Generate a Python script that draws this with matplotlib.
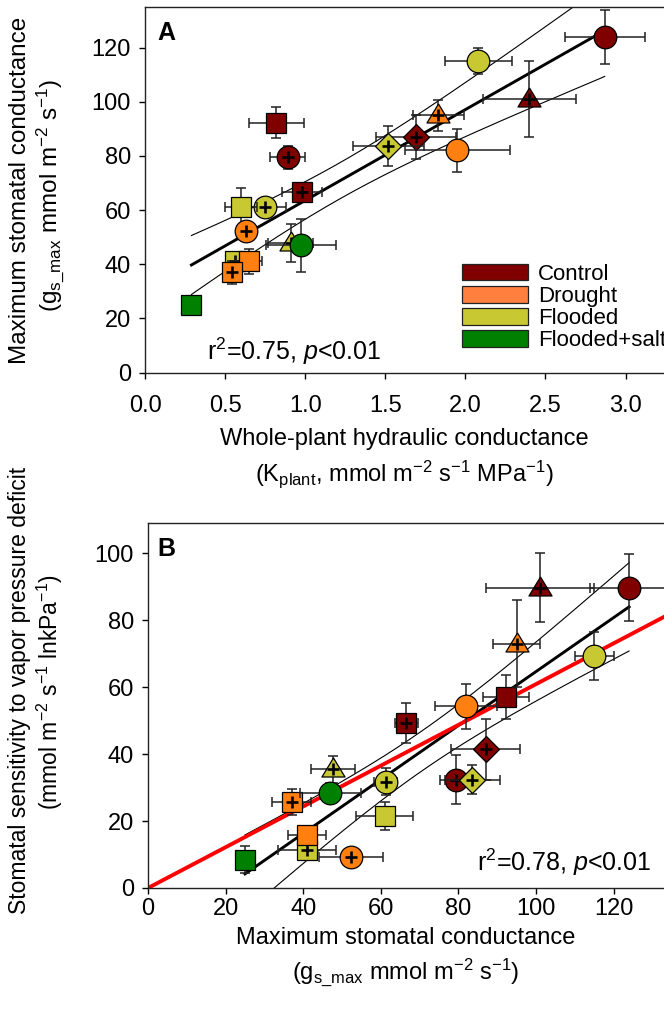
import numpy as np
import matplotlib
matplotlib.use('Agg')
import matplotlib.pyplot as plt
from matplotlib.patches import Patch

plt.rcParams['font.family'] = ['Liberation Sans', 'DejaVu Sans']
plt.rcParams['mathtext.fontset'] = 'custom'
plt.rcParams['mathtext.rm'] = 'Liberation Sans'
plt.rcParams['mathtext.it'] = 'Liberation Sans:italic'
plt.rcParams['mathtext.default'] = 'regular'

# --- data (one entry per species/treatment point) ---
groups = ['Control', 'Drought', 'Flooded', 'Flooded+salt']
group = ['Control'] * 6 + ['Drought'] * 5 + ['Flooded'] * 6 + ['Flooded+salt'] * 2
shape = ['s', 'o', 's', 'D', '^', 'o',
         '^', 'o', 'o', 's', 's',
         'o', 'D', 'o', 's', '^', 's',
         'o', 's']
has_plus = [False, True, True, True, True, False,
            True, False, True, False, True,
            False, True, True, False, True, True,
            False, False]
kplant = [0.82, 0.89, 0.98, 1.69, 2.40, 2.87,
          1.83, 1.95, 0.63, 0.65, 0.54,
          2.08, 1.52, 0.75, 0.60, 0.91, 0.56,
          0.975, 0.29]
kplant_err = [0.17, 0.11, 0.125, 0.25, 0.29, 0.25,
              0.16, 0.33, 0.05, 0.08, 0.05,
              0.21, 0.22, 0.13, 0.10, 0.14, 0.05,
              0.22, 0.0]
gsmax = [92.3, 79.5, 66.6, 87.0, 101.0, 124.0,
         95.0, 82.0, 52.4, 41.0, 37.0,
         115.0, 83.6, 61.3, 61.0, 47.7, 41.0,
         47.0, 25.0]
gsmax_err_a = [5.8, 4.3, 3.0, 8.0, 14.2, 10.0,
               5.8, 7.9, 3.0, 4.5, 4.3,
               4.8, 7.3, 2.0, 7.0, 7.0, 3.0,
               9.7, 0.0]
gsmax_err_b = [6.0, 4.3, 3.0, 9.0, 14.0, 10.0,
               6.0, 8.0, 8.2, 5.0, 5.0,
               5.0, 7.0, 3.0, 7.3, 5.6, 7.4,
               7.9, 2.0]
sens = [57.1, 32.4, 49.3, 41.4, 89.7, 89.7,
        73.0, 54.3, 9.3, 15.8, 25.7,
        69.3, 32.4, 31.7, 21.5, 35.4, 11.3,
        28.4, 8.5]
sens_err = [6.6, 7.4, 6.0, 9.0, 10.2, 10.0,
            13.0, 6.7, 1.5, 2.0, 4.0,
            7.2, 4.4, 4.0, 4.2, 4.0, 2.0,
            3.0, 4.1]

marker_colors = {'Control': '#800000', 'Drought': '#ff7f10',
                 'Flooded': '#c8c832', 'Flooded+salt': '#008000'}
legend_colors = {'Control': '#800000', 'Drought': '#ff7f3f',
                 'Flooded': '#c8c832', 'Flooded+salt': '#008000'}

T_975_17 = 2.110  # two-sided 95 % t value, n-2 = 17

tri = [(0, 1.2), (-1.2, -0.78), (1.2, -0.78), (0, 1.2)]
marker_map = {'o': ('o', 16.3), 's': ('s', 14.2), 'D': ('D', 13.0), '^': (tri, 16.6)}


def fit_with_ci(x, y):
    x = np.asarray(x)
    y = np.asarray(y)
    slope, icpt = np.polyfit(x, y, 1)
    n = len(x)
    resid = y - (slope * x + icpt)
    s = np.sqrt(np.sum(resid ** 2) / (n - 2))
    sxx = np.sum((x - x.mean()) ** 2)
    xs = np.linspace(x.min(), x.max(), 200)
    yhat = slope * xs + icpt
    half = T_975_17 * s * np.sqrt(1.0 / n + (xs - x.mean()) ** 2 / sxx)
    return xs, yhat, yhat - half, yhat + half


def draw_points(ax, xs, ys, xerr, yerr):
    order = [i for g in ['Control', 'Flooded', 'Drought', 'Flooded+salt']
             for i in range(len(group)) if group[i] == g]
    for i in order:
        if xerr[i] > 0 or yerr[i] > 0:
            ax.errorbar(xs[i], ys[i], xerr=xerr[i], yerr=yerr[i], fmt='none',
                        ecolor='#222222', elinewidth=1.1, capsize=3.6,
                        capthick=1.1, zorder=3)
        m, ms = marker_map[shape[i]]
        ax.plot(xs[i], ys[i], linestyle='none', marker=m, markersize=ms,
                markerfacecolor=marker_colors[group[i]], markeredgecolor='black',
                markeredgewidth=0.9, zorder=3)
        if has_plus[i]:
            ax.plot(xs[i], ys[i], linestyle='none', marker='+', markersize=8,
                    markeredgewidth=1.9, color='black', zorder=3)


def style_axes(ax, xpad):
    for side in ['left', 'bottom', 'top']:
        ax.spines[side].set_color('#222222')
        ax.spines[side].set_linewidth(1.0)
    ax.spines['right'].set_visible(False)
    ax.tick_params(direction='out', length=4, width=1, labelsize=17,
                   top=False, right=False)
    ax.tick_params(axis='x', pad=xpad)
    ax.tick_params(axis='y', pad=6)


W, H = 664, 1015
fig = plt.figure(figsize=(W / 100, H / 100), dpi=100)

# ---------------- panel A ----------------
axA = fig.add_axes([145 / W, 1 - 372.5 / H, 1 - 145 / W, (372.5 - 7) / H])
xs, yhat, lo, hi = fit_with_ci(kplant, gsmax)
axA.plot(xs, lo, color='black', lw=0.8, zorder=2)
axA.plot(xs, hi, color='black', lw=0.8, zorder=2)
axA.plot(xs, yhat, color='black', lw=2.1, zorder=2)
draw_points(axA, kplant, gsmax, kplant_err, gsmax_err_a)
axA.set_xlim(0, 3.24)
axA.set_ylim(0, 135)
axA.set_xticks(np.arange(0, 3.01, 0.5))
axA.set_xticklabels(['%.1f' % v for v in np.arange(0, 3.01, 0.5)])
axA.set_yticks(np.arange(0, 121, 20))
style_axes(axA, 12)

handles = [Patch(facecolor=legend_colors[g], edgecolor='#222222', linewidth=0.9)
           for g in groups]
axA.legend(handles, groups, loc='upper left', bbox_to_anchor=(0.611, 0.297),
           frameon=False, fontsize=16, handlelength=2.95, handleheight=0.76,
           handletextpad=0.45, labelspacing=0.05, borderpad=0, borderaxespad=0)

fig.text(207 / W, 1 - 360 / H, r'r$^2$=0.75, $\mathit{p}$<0.01', fontsize=18,
         va='baseline', ha='left')
fig.text(157 / W, 1 - 21 / H, 'A', fontsize=18, fontweight='bold', va='top')

fig.text(404 / W, 1 - 439 / H, 'Whole-plant hydraulic conductance',
         fontsize=17, ha='center', va='center')
fig.text(404 / W, 1 - 474 / H,
         r'(K$_{plant}$, mmol m$^{-2}$ s$^{-1}$ MPa$^{-1}$)',
         fontsize=17, ha='center', va='center')
fig.text(20 / W, 1 - 190 / H, 'Maximum stomatal conductance',
         fontsize=17.5, ha='center', va='center', rotation=90)
fig.text(50 / W, 1 - 195 / H, r'(g$_{s\_max}$ mmol m$^{-2}$ s$^{-1}$)',
         fontsize=17.5, ha='center', va='center', rotation=90)

# ---------------- panel B ----------------
axB = fig.add_axes([148 / W, 1 - 888 / H, 1 - 148 / W, (888 - 523) / H])
xs, yhat, lo, hi = fit_with_ci(gsmax, sens)
g_arr = np.asarray(gsmax)
s_arr = np.asarray(sens)
slope0 = np.sum(g_arr * s_arr) / np.sum(g_arr ** 2)
x_red = np.array([0, 133])
axB.plot(xs, lo, color='black', lw=0.8, zorder=2)
axB.plot(xs, hi, color='black', lw=0.8, zorder=2)
axB.plot(xs, yhat, color='black', lw=2.1, zorder=2)
axB.plot(x_red, slope0 * x_red, color='#ff0000', lw=2.8, zorder=2)
draw_points(axB, gsmax, sens, gsmax_err_b, sens_err)
axB.set_xlim(0, 133)
axB.set_ylim(0, 109)
axB.set_xticks(np.arange(0, 121, 20))
axB.set_yticks(np.arange(0, 101, 20))
style_axes(axB, 3)

fig.text(651 / W, 1 - 871.5 / H, r'r$^2$=0.78, $\mathit{p}$<0.01', fontsize=18,
         va='baseline', ha='right')
fig.text(157 / W, 1 - 537 / H, 'B', fontsize=18, fontweight='bold', va='top')

fig.text(406 / W, 1 - 938 / H, 'Maximum stomatal conductance',
         fontsize=17, ha='center', va='center')
fig.text(406 / W, 1 - 972 / H, r'(g$_{s\_max}$ mmol m$^{-2}$ s$^{-1}$)',
         fontsize=17, ha='center', va='center')
fig.text(20 / W, 1 - 690 / H, 'Stomatal sensitivity to vapor pressure deficit',
         fontsize=16.5, ha='center', va='center', rotation=90)
fig.text(50 / W, 1 - 692 / H, r'(mmol m$^{-2}$ s$^{-1}$ lnkPa$^{-1}$)',
         fontsize=16.5, ha='center', va='center', rotation=90)

fig.savefig('out.png', dpi=100)
